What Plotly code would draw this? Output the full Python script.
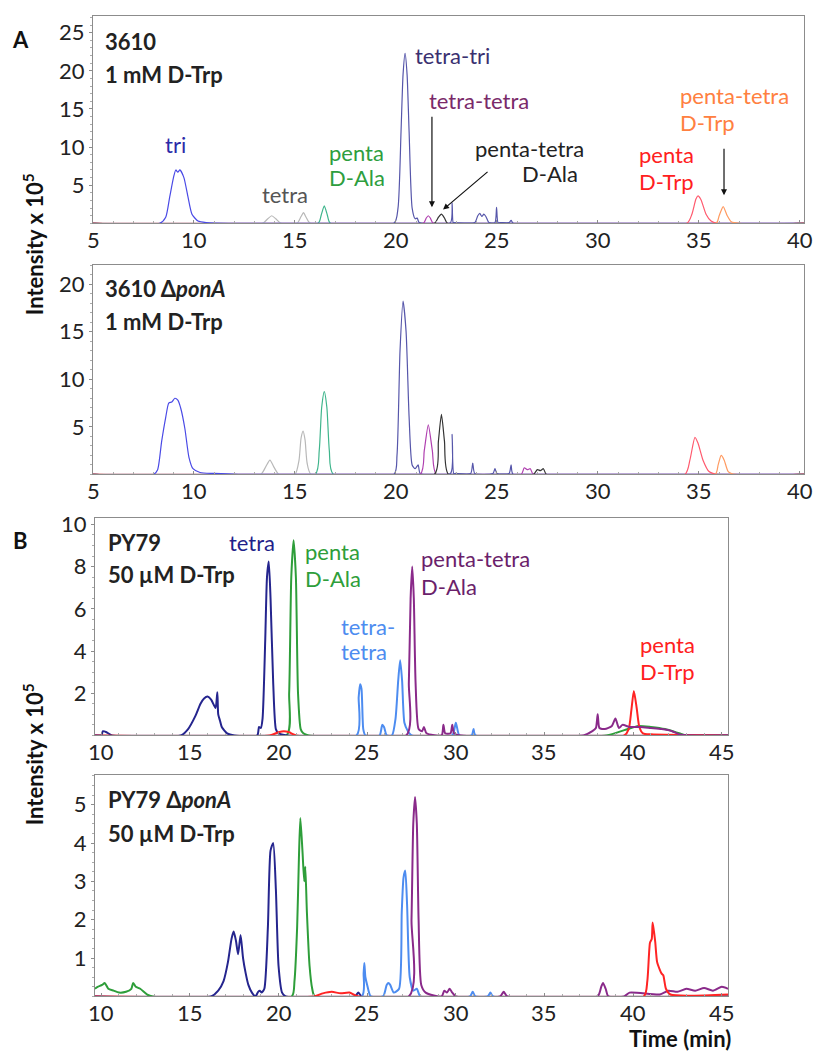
import plotly.graph_objects as go

W, H = 814, 1052

# ---------------- Panel A, 3610 + 1 mM D-Trp ----------------
a1_tri_t = [5, 8.3, 8.6, 8.8, 9.0, 9.1, 9.2, 9.3, 9.5, 9.7, 9.9, 10.2, 10.6, 12.0, 40.2]
a1_tri_y = [0, 0, 0.8, 3.5, 6.2, 7.0, 6.7, 7.0, 6.0, 3.5, 1.2, 0.3, 0.1, 0, 0]
a1_tetra_t = [5, 13.4, 13.65, 13.85, 14.05, 14.3, 15.1, 15.3, 15.42, 15.55, 15.75, 40.2]
a1_tetra_y = [0, 0, 0.6, 1.0, 0.6, 0, 0, 0.9, 1.4, 0.8, 0, 0]
a1_pala_t = [5, 16.15, 16.3, 16.45, 16.6, 16.75, 40.2]
a1_pala_y = [0, 0, 1.1, 2.3, 1.1, 0, 0]
a1_ttri_t = [5, 19.9, 20.1, 20.25, 20.35, 20.45, 20.55, 20.65, 20.8, 20.95, 21.05, 21.15,
             22.7, 22.78, 22.83, 22.9, 23.9, 24.05, 24.15, 24.25, 24.35, 24.45, 24.6,
             24.9, 24.98, 25.05, 25.2, 25.6, 25.7, 25.8, 40.2]
a1_ttri_y = [0, 0, 2, 12, 19.5, 22.3, 19.5, 12, 2, 0.6, 0.7, 0.1,
             0.1, 2.7, 0.1, 0.1, 0.1, 1.0, 1.3, 0.9, 1.2, 0.9, 0.1,
             0.1, 2.1, 0.1, 0.1, 0.1, 0.4, 0, 0]
a1_tt_t = [5, 21.35, 21.5, 21.6, 21.7, 21.85, 40.2]
a1_tt_y = [0, 0, 0.7, 1.0, 0.7, 0, 0]
a1_ptala_t = [5, 21.9, 22.1, 22.25, 22.4, 22.55, 40.2]
a1_ptala_y = [0, 0, 0.8, 1.2, 0.7, 0, 0]
a1_ptrp_t = [5, 34.4, 34.65, 34.85, 34.95, 35.1, 35.35, 35.6, 35.9, 40.2]
a1_ptrp_y = [0, 0, 1.2, 3.2, 3.6, 3.1, 1.2, 0.3, 0, 0]
a1_pttrp_t = [5, 35.85, 36.0, 36.2, 36.4, 36.6, 37.0, 40.2]
a1_pttrp_y = [0, 0, 1.0, 2.2, 1.0, 0.2, 0, 0]

# ---------------- Panel A, 3610 ΔponA + 1 mM D-Trp ----------------
a2_tri_t = [5, 8.0, 8.2, 8.4, 8.6, 8.75, 8.9, 9.05, 9.2, 9.35, 9.55, 9.75, 9.95, 10.3, 11.0, 12.2, 40.2]
a2_tri_y = [0, 0, 0.5, 3.5, 6.0, 7.5, 7.6, 8.0, 7.8, 6.9, 4.8, 1.8, 0.6, 0.2, 0.1, 0, 0]
a2_tetra_t = [5, 13.3, 13.55, 13.76, 13.95, 14.2, 15.0, 15.2, 15.3, 15.4, 15.5, 15.6, 15.8, 40.2]
a2_tetra_y = [0, 0, 0.8, 1.5, 0.8, 0, 0, 1.5, 3.8, 4.55, 3.6, 1.2, 0, 0]
a2_pala_t = [5, 16.0, 16.2, 16.32, 16.45, 16.58, 16.7, 16.9, 40.2]
a2_pala_y = [0, 0, 2.5, 7.0, 8.7, 7.0, 2.5, 0, 0]
a2_ttri_t = [5, 19.9, 20.05, 20.2, 20.35, 20.5, 20.65, 20.8, 20.95, 21.1, 21.2,
             22.7, 22.78, 22.86, 22.95, 23.7, 23.8, 23.9, 24.8, 24.9, 25.0, 25.6, 25.7, 25.8, 40.2]
a2_ttri_y = [0, 0, 2, 13, 18.2, 15, 6, 1, 0.6, 1.0, 0.1,
             0.1, 4.2, 0.1, 0.1, 0.1, 1.2, 0.1, 0.1, 0.6, 0.1, 0.1, 1.0, 0, 0]
a2_tt_t = [5, 21.2, 21.4, 21.6, 21.8, 22.0, 26.2, 26.35, 26.5, 26.65, 26.8, 40.2]
a2_tt_y = [0, 0, 2.5, 5.2, 2.5, 0, 0, 0.7, 0.5, 0.6, 0, 0]
a2_ptala_t = [5, 21.9, 22.1, 22.25, 22.4, 22.6, 26.8, 27.0, 27.15, 27.3, 27.45, 40.2]
a2_ptala_y = [0, 0, 3.5, 6.3, 3.5, 0, 0, 0.5, 0.4, 0.6, 0, 0]
a2_ptrp_t = [5, 34.3, 34.55, 34.8, 34.95, 35.2, 35.5, 35.9, 40.2]
a2_ptrp_y = [0, 0, 1.5, 3.9, 3.3, 1.5, 0.3, 0, 0]
a2_pttrp_t = [5, 35.8, 35.95, 36.1, 36.25, 36.45, 36.8, 40.2]
a2_pttrp_y = [0, 0, 1.0, 2.0, 1.5, 0.3, 0, 0]

# ---------------- Panel B, PY79 + 50 µM D-Trp ----------------
b1_tetra_t = [9.65, 10.0, 10.1, 10.3, 10.6, 14.5, 14.9, 15.3, 15.6, 15.8, 16.0, 16.2, 16.45, 16.55,
              16.6, 16.7, 16.8, 17.1, 17.5, 18.8, 18.9, 19.0, 19.1, 19.25, 19.35, 19.45, 19.55,
              19.7, 19.85, 20.0, 20.5, 45.35]
b1_tetra_y = [0, 0, 0.2, 0.15, 0, 0, 0.3, 0.9, 1.5, 1.75, 1.84, 1.7, 1.3, 2.05,
              1.0, 0.7, 0.4, 0.1, 0, 0, 0.4, 0.35, 0.8, 4.5, 7.5, 8.24, 6.5,
              2.5, 0.3, 0.1, 0, 0]
b1_pala_t = [9.65, 20.45, 20.6, 20.72, 20.85, 20.98, 21.1, 21.25, 21.4, 21.7,
             38.5, 39.5, 40.3, 41.0, 41.8, 42.6, 43.0, 45.35]
b1_pala_y = [0, 0, 2.0, 7.5, 9.25, 7.5, 2.0, 0.3, 0.1, 0,
             0, 0.25, 0.45, 0.4, 0.3, 0.1, 0, 0]
b1_tt_t = [9.65, 24.4, 24.52, 24.6, 24.68, 24.78, 24.9, 25.7, 25.85, 25.95, 26.1, 26.4, 26.6,
           26.75, 26.86, 26.97, 27.1, 27.3, 27.5, 29.8, 30.0, 30.2, 30.9, 31.0, 31.1, 45.35]
b1_tt_y = [0, 0, 1.8, 2.42, 2.2, 0.3, 0, 0, 0.5, 0.4, 0, 0, 0.8,
           2.6, 3.56, 2.6, 0.6, 0.2, 0, 0, 0.6, 0, 0, 0.3, 0, 0]
b1_ptala_t = [9.65, 27.2, 27.35, 27.45, 27.54, 27.63, 27.73, 27.9, 28.1, 28.2, 28.35, 29.2, 29.3,
              29.4, 29.7, 29.8, 29.9, 30.3, 37.2, 37.7, 37.9, 38.0, 38.1, 38.4, 38.8, 39.0,
              39.2, 39.4, 39.8, 40.4, 41.0, 41.6, 42.2, 42.6, 45.35]
b1_ptala_y = [0, 0, 2.5, 6.5, 8.0, 6.5, 2.5, 0.3, 0.2, 0.4, 0.1, 0, 0.5,
              0.1, 0.1, 0.5, 0.1, 0, 0, 0.2, 0.35, 1.0, 0.35, 0.3, 0.45, 0.8,
              0.35, 0.5, 0.4, 0.4, 0.35, 0.3, 0.2, 0.05, 0]
b1_ptrp_t = [9.65, 19.5, 20.0, 20.3, 20.6, 21.0, 39.5, 39.75, 39.9, 40.04, 40.2, 40.35, 40.55, 41.0, 45.35]
b1_ptrp_y = [0, 0, 0.15, 0.2, 0.15, 0, 0, 0.3, 1.2, 2.1, 1.3, 0.4, 0.1, 0.05, 0]

# ---------------- Panel B, PY79 ΔponA + 50 µM D-Trp ----------------
b2_pala_t = [9.65, 9.8, 10.05, 10.2, 10.4, 10.7, 11.0, 11.4, 11.7, 11.8, 11.95, 12.2, 12.6, 12.9,
             20.75, 20.9, 21.05, 21.15, 21.23, 21.35, 21.45, 21.51, 21.6, 21.75, 21.9, 22.05, 45.35]
b2_pala_y = [0.2, 0.25, 0.3, 0.35, 0.2, 0.15, 0.1, 0.12, 0.2, 0.35, 0.25, 0.2, 0.05, 0,
             0, 0.4, 1.8, 3.6, 4.65, 3.8, 3.0, 3.38, 2.2, 0.8, 0.2, 0, 0]
b2_tetra_t = [9.65, 16.2, 16.6, 16.9, 17.15, 17.35, 17.47, 17.6, 17.72, 17.86, 18.0, 18.15, 18.3,
              18.5, 18.7, 18.85, 18.95, 19.05, 19.2, 19.4, 19.55, 19.7, 19.85, 20.0, 20.2, 20.4,
              24.3, 24.5, 24.7, 45.35]
b2_tetra_y = [0, 0, 0.15, 0.4, 0.9, 1.5, 1.69, 1.45, 1.1, 1.6, 1.0, 0.6, 0.3,
              0.1, 0, 0.12, 0.15, 0.1, 0.2, 1.8, 3.8, 4.0, 2.8, 0.8, 0.1, 0,
              0, 0.1, 0, 0]
b2_tt_t = [9.65, 24.7, 24.8, 24.84, 24.9, 25.0, 25.2, 25.9, 26.1, 26.2, 26.3, 26.5, 26.8, 26.95,
           27.05, 27.15, 27.25, 27.4, 27.6, 27.8, 28.0, 30.8, 30.95, 31.1, 31.8, 31.95, 32.1, 45.35]
b2_tt_y = [0, 0, 0.6, 0.87, 0.5, 0.3, 0, 0, 0.3, 0.35, 0.3, 0.1, 0.2, 2.2,
           3.1, 3.28, 2.4, 0.5, 0.15, 0.2, 0, 0, 0.12, 0, 0, 0.1, 0, 0]
b2_ptala_t = [9.65, 27.35, 27.5, 27.6, 27.7, 27.8, 27.9, 28.05, 28.3, 29.2, 29.35, 29.5, 29.65,
              29.8, 30.0, 32.5, 32.7, 32.9, 38.0, 38.2, 38.3, 38.45, 38.6, 39.5, 39.8, 41.5,
              42.0, 42.5, 43.0, 43.5, 44.0, 44.5, 45.0, 45.35]
b2_ptala_y = [0, 0, 2.0, 4.5, 5.2, 4.5, 2.0, 0.3, 0.1, 0, 0.15, 0.1, 0.2,
              0.1, 0, 0, 0.12, 0, 0, 0.25, 0.35, 0.2, 0, 0, 0.1, 0.05,
              0.15, 0.12, 0.2, 0.15, 0.22, 0.15, 0.25, 0.2]
b2_ptrp_t = [9.65, 22.0, 22.5, 23.0, 23.5, 24.0, 24.5, 40.6, 40.8, 40.95, 41.05, 41.1, 41.2,
             41.25, 41.35, 41.5, 41.6, 41.7, 41.85, 42.1, 45.35]
b2_ptrp_y = [0, 0, 0.08, 0.12, 0.08, 0.1, 0, 0, 0.4, 1.4, 1.5, 1.93, 1.6,
             1.4, 0.9, 0.7, 0.6, 0.55, 0.2, 0.05, 0.05]

# axis settings
a_xrange = [5, 40.2]
b_xrange = [9.65, 45.35]
a_xticks = [5, 10, 15, 20, 25, 30, 35, 40]
b_xticks = [10, 15, 20, 25, 30, 35, 40, 45]
y_ranges = [[0, 27.2], [0, 22.0], [0, 10.3], [0, 5.77]]
y_ticks = [[5, 10, 15, 20, 25], [5, 10, 15, 20], [2, 4, 6, 8, 10], [1, 2, 3, 4, 5]]
y_minor = [1, 1, 0.5, 0.25]

# panel boxes in pixels: left, right, top, bottom
boxes = [(93, 804, 8, 217), (93, 804, 259, 470), (95, 728, 514, 733), (95, 728, 773, 996)]

FONT = "Lato"
fig = go.Figure()


def px_x(x):
    return x / W


def px_y(y):
    return 1 - y / H


def add_line(panel, t, y, color, width):
    ax = "" if panel == 1 else str(panel)
    fig.add_trace(go.Scatter(x=t, y=y, mode="lines", xaxis="x" + ax, yaxis="y" + ax,
                             line=dict(color=color, width=width, shape="spline", smoothing=0.6),
                             showlegend=False, hoverinfo="skip"))


# baselines
add_line(1, a_xrange, [0, 0], "#8b2a44", 1.2)
add_line(2, a_xrange, [0, 0], "#8b2a44", 1.2)
add_line(3, b_xrange, [0, 0], "#7a2a55", 1.5)
add_line(4, b_xrange, [0, 0], "#7a2a55", 1.5)

# panel A traces
for p, sets in [(1, [(a1_tetra_t, a1_tetra_y, "#b8b8b8"), (a1_pala_t, a1_pala_y, "#3fb58c"),
                     (a1_tri_t, a1_tri_y, "#4a4ae6"), (a1_ttri_t, a1_ttri_y, "#5656aa"),
                     (a1_tt_t, a1_tt_y, "#b040b0"), (a1_ptala_t, a1_ptala_y, "#333333"),
                     (a1_ptrp_t, a1_ptrp_y, "#ff5a6e"), (a1_pttrp_t, a1_pttrp_y, "#ff9a60")]),
                (2, [(a2_tetra_t, a2_tetra_y, "#b8b8b8"), (a2_pala_t, a2_pala_y, "#3fb58c"),
                     (a2_tri_t, a2_tri_y, "#4a4ae6"), (a2_ttri_t, a2_ttri_y, "#5656aa"),
                     (a2_tt_t, a2_tt_y, "#b040b0"), (a2_ptala_t, a2_ptala_y, "#333333"),
                     (a2_ptrp_t, a2_ptrp_y, "#ff5a6e"), (a2_pttrp_t, a2_pttrp_y, "#ff9a60")])]:
    for t, y, c in sets:
        add_line(p, t, y, c, 1.2)

# panel B traces
for p, sets in [(3, [(b1_pala_t, b1_pala_y, "#2e9e3a"), (b1_tetra_t, b1_tetra_y, "#25258e"),
                     (b1_tt_t, b1_tt_y, "#4d8cf0"), (b1_ptrp_t, b1_ptrp_y, "#ff2424"),
                     (b1_ptala_t, b1_ptala_y, "#8a2a8a")]),
                (4, [(b2_pala_t, b2_pala_y, "#2e9e3a"), (b2_tetra_t, b2_tetra_y, "#25258e"),
                     (b2_tt_t, b2_tt_y, "#4d8cf0"), (b2_ptala_t, b2_ptala_y, "#8a2a8a"),
                     (b2_ptrp_t, b2_ptrp_y, "#ff2424")])]:
    for t, y, c in sets:
        add_line(p, t, y, c, 2.0)

axis_font = dict(family=FONT, size=22, color="#222222")
layout = dict(width=W, height=H, margin=dict(l=0, r=0, t=0, b=0), autosize=False,
              paper_bgcolor="white", plot_bgcolor="white", showlegend=False)

annots = []

for i, (l, r, t, b) in enumerate(boxes):
    n = "" if i == 0 else str(i + 1)
    is_a = i < 2
    xr = a_xrange if is_a else b_xrange
    xt = a_xticks if is_a else b_xticks
    layout["xaxis" + n] = dict(
        domain=[px_x(l), px_x(r)], anchor="y" + n, range=xr, tickvals=xt,
        showline=True, mirror=True, linecolor="#8c8c8c", linewidth=1.2,
        ticks="inside", ticklen=3, tickcolor="#8c8c8c", showticklabels=False,
        minor=dict(dtick=1, ticks="inside", ticklen=2, tickcolor="#aaaaaa"),
        showgrid=False, zeroline=False)
    layout["yaxis" + n] = dict(
        domain=[px_y(b), px_y(t)], anchor="x" + n,
        range=y_ranges[i], tickvals=y_ticks[i],
        showline=True, mirror=True, linecolor="#8c8c8c", linewidth=1.2,
        ticks="outside", ticklen=3, tickcolor="#8c8c8c",
        minor=dict(dtick=y_minor[i], ticks="outside", ticklen=2, tickcolor="#aaaaaa"),
        showgrid=False, zeroline=False, tickfont=axis_font)
    # time labels sit close under each frame, placed on the panel's own time scale
    for v in xt:
        annots.append(dict(x=v, xref="x" + n, y=px_y(b + 16), yref="paper", text=str(v),
                           showarrow=False, xanchor="center", yanchor="middle",
                           font=axis_font))

fig.update_layout(**layout)


def txt(x, y, s, color="#222222", anchor="left", size=22):
    annots.append(dict(x=px_x(x), y=px_y(y), xref="paper", yref="paper", text=s,
                       showarrow=False, xanchor=anchor, yanchor="middle",
                       font=dict(family=FONT, size=size, color=color)))


# panel letters and axis titles
txt(20, 32, "<b>A</b>", "#111111", "center")
txt(20, 537, "<b>B</b>", "#111111", "center")
for yc in (238, 752):
    annots.append(dict(x=px_x(33), y=px_y(yc), xref="paper", yref="paper",
                       text="<b>Intensity x 10<sup>5</sup></b>", textangle=-90,
                       showarrow=False, xanchor="center", yanchor="middle",
                       font=dict(family=FONT, size=22, color="#111111")))
txt(733, 1038, "<b>Time (min)</b>", "#111111", "right")

# strain / condition labels
txt(103, 34, "<b>3610</b>")
txt(103, 67, "<b>1 mM D-Trp</b>")
txt(103, 283, "<b>3610 Δ<i>ponA</i></b>")
txt(103, 316, "<b>1 mM D-Trp</b>")
txt(106, 539, "<b>PY79</b>")
txt(106, 571, "<b>50 µM D-Trp</b>")
txt(106, 798, "<b>PY79 Δ<i>ponA</i></b>")
txt(106, 832, "<b>50 µM D-Trp</b>")

# peak labels, panel A
txt(175, 138, "tri", "#2a2aa8", "center")
txt(285, 188, "tetra", "#555555", "center")
txt(327, 146, "penta", "#2e9e3e")
txt(327, 171, "D-Ala", "#2e9e3e")
txt(413, 48, "tetra-tri", "#3a3070")
txt(427, 93, "tetra-tetra", "#7a2a6a")
txt(473, 142, "penta-tetra", "#222222")
txt(520, 167, "D-Ala", "#222222")
txt(637, 148, "penta", "#ff2020")
txt(637, 175, "D-Trp", "#ff2020")
txt(678, 88, "penta-tetra", "#ff8040")
txt(678, 115, "D-Trp", "#ff8040")

# peak labels, panel B
txt(252, 539, "tetra", "#1f1f8a", "center")
txt(303, 548, "penta", "#2e9e3a")
txt(303, 575, "D-Ala", "#2e9e3a")
txt(339, 623, "tetra-", "#4d8cf0")
txt(339, 648, "tetra", "#4d8cf0")
txt(419, 555, "penta-tetra", "#6b1f6b")
txt(419, 583, "D-Ala", "#6b1f6b")
txt(638, 641, "penta", "#ff2020")
txt(638, 669, "D-Trp", "#ff2020")

# arrows pointing at the small dimer peaks in panel A
for hx, hy, axp, ayp in [(21.78, 2.1, 0, -92), (22.33, 1.8, 46, -39), (36.24, 3.7, 0, -48)]:
    annots.append(dict(x=hx, y=hy, xref="x", yref="y", ax=axp, ay=ayp, text="",
                       showarrow=True, arrowhead=2, arrowsize=1, arrowwidth=1.2,
                       arrowcolor="#111111"))

fig.update_layout(annotations=annots)
fig.write_html("out.html")
